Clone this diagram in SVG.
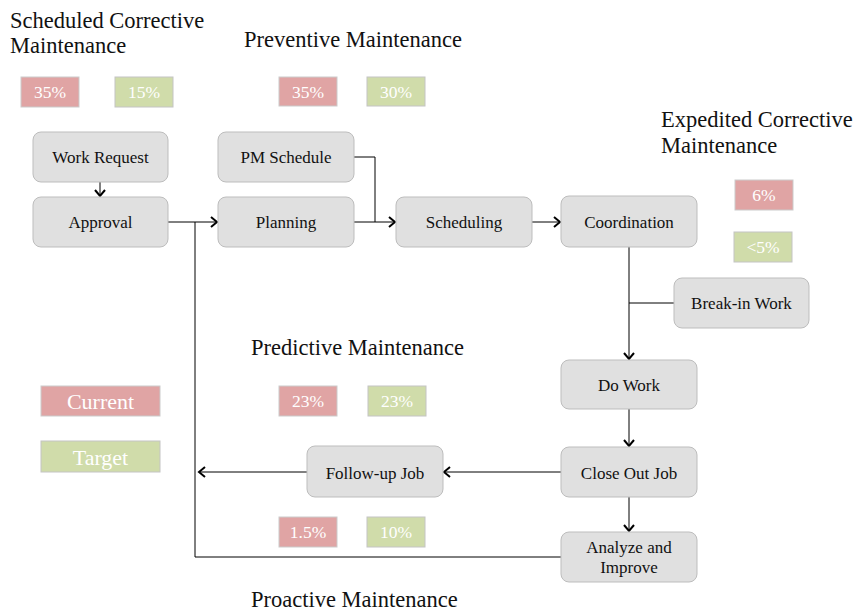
<svg xmlns="http://www.w3.org/2000/svg" width="856" height="612" viewBox="0 0 856 612">
  <style>
    .node rect { fill: #e0e0e0; stroke: #bdbdbd; stroke-width: 1; }
    .node text { font-family: "Liberation Serif", "Times New Roman", serif; font-size: 17px; fill: #111; text-anchor: middle; }
    .title { font-family: "Liberation Serif", "Times New Roman", serif; font-size: 22.5px; fill: #111; }
    .cur { fill: #e0a4a4; stroke: #cbcbcb; }
    .tgt { fill: #d0dcaa; stroke: #c4c4c4; }
    .pct { font-family: "Liberation Serif", "Times New Roman", serif; font-size: 17.5px; fill: #ffffff; text-anchor: middle; }
    .legend { font-family: "Liberation Serif", "Times New Roman", serif; font-size: 22px; fill: #ffffff; text-anchor: middle; }
    .edge { fill: none; stroke: #000; stroke-width: 1; }
  </style>
  <defs>
    <marker id="arrow" markerUnits="userSpaceOnUse" markerWidth="12" markerHeight="14" refX="7" refY="6" orient="auto">
      <path d="M1,1 L7,6 L1,11" fill="none" stroke="#000" stroke-width="2"/>
    </marker>
  </defs>

  <!-- Category titles -->
  <text class="title" x="10" y="28">Scheduled Corrective</text>
  <text class="title" x="10" y="53">Maintenance</text>
  <text class="title" x="244" y="47">Preventive Maintenance</text>
  <text class="title" x="661" y="127">Expedited Corrective</text>
  <text class="title" x="661" y="153">Maintenance</text>
  <text class="title" x="251" y="355">Predictive Maintenance</text>
  <text class="title" x="251" y="607">Proactive Maintenance</text>

  <!-- Current / target percentages -->
  <g id="pct-scheduled">
    <rect class="cur" x="21" y="77" width="58" height="30"/>
    <text class="pct" x="50" y="98">35%</text>
    <rect class="tgt" x="115" y="77" width="58" height="30"/>
    <text class="pct" x="144" y="98">15%</text>
  </g>
  <g id="pct-preventive">
    <rect class="cur" x="279" y="77" width="58" height="29"/>
    <text class="pct" x="308" y="98">35%</text>
    <rect class="tgt" x="367" y="77" width="58" height="29"/>
    <text class="pct" x="396" y="98">30%</text>
  </g>
  <g id="pct-expedited">
    <rect class="cur" x="735" y="180" width="58" height="30"/>
    <text class="pct" x="764" y="201">6%</text>
    <rect class="tgt" x="734" y="232" width="58" height="30"/>
    <text class="pct" x="763" y="253">&lt;5%</text>
  </g>
  <g id="pct-predictive">
    <rect class="cur" x="279" y="386" width="58" height="30"/>
    <text class="pct" x="308" y="407">23%</text>
    <rect class="tgt" x="368" y="386" width="58" height="30"/>
    <text class="pct" x="397" y="407">23%</text>
  </g>
  <g id="pct-proactive">
    <rect class="cur" x="279" y="517" width="58" height="30"/>
    <text class="pct" x="308" y="538">1.5%</text>
    <rect class="tgt" x="367" y="517" width="58" height="30"/>
    <text class="pct" x="396" y="538">10%</text>
  </g>

  <!-- Legend -->
  <g id="legend">
    <rect class="cur" x="41" y="386" width="119" height="30"/>
    <text class="legend" x="100.5" y="409">Current</text>
    <rect class="tgt" x="41" y="441" width="119" height="31"/>
    <text class="legend" x="100.5" y="465">Target</text>
  </g>

  <!-- Connectors -->
  <g id="connectors">
    <path class="edge" d="M100,182 V196" marker-end="url(#arrow)"/>
    <path class="edge" d="M168,222 H217" marker-end="url(#arrow)"/>
    <path class="edge" d="M561,557 H195 V222"/>
    <path class="edge" d="M354,157 H375 V222"/>
    <path class="edge" d="M354,222 H395" marker-end="url(#arrow)"/>
    <path class="edge" d="M532,222 H560" marker-end="url(#arrow)"/>
    <path class="edge" d="M629,247 V359" marker-end="url(#arrow)"/>
    <path class="edge" d="M674,303 H629"/>
    <path class="edge" d="M629,409 V446" marker-end="url(#arrow)"/>
    <path class="edge" d="M629,497 V531" marker-end="url(#arrow)"/>
    <path class="edge" d="M561,472 H444" marker-end="url(#arrow)"/>
    <path class="edge" d="M307,472 H199" marker-end="url(#arrow)"/>
  </g>

  <!-- Process steps -->
  <g id="work-request" class="node">
    <rect x="33" y="132" width="135" height="50" rx="8"/>
    <text x="100.5" y="163">Work Request</text>
  </g>
  <g id="approval" class="node">
    <rect x="33" y="197" width="135" height="50" rx="8"/>
    <text x="100.5" y="228">Approval</text>
  </g>
  <g id="pm-schedule" class="node">
    <rect x="218" y="132" width="136" height="50" rx="8"/>
    <text x="286" y="163">PM Schedule</text>
  </g>
  <g id="planning" class="node">
    <rect x="218" y="197" width="136" height="50" rx="8"/>
    <text x="286" y="228">Planning</text>
  </g>
  <g id="scheduling" class="node">
    <rect x="396" y="197" width="136" height="50" rx="8"/>
    <text x="464" y="228">Scheduling</text>
  </g>
  <g id="coordination" class="node">
    <rect x="561" y="196" width="136" height="51" rx="8"/>
    <text x="629" y="228">Coordination</text>
  </g>
  <g id="break-in-work" class="node">
    <rect x="674" y="278" width="135" height="50" rx="8"/>
    <text x="741.5" y="309">Break-in Work</text>
  </g>
  <g id="do-work" class="node">
    <rect x="561" y="360" width="136" height="49" rx="8"/>
    <text x="629" y="391">Do Work</text>
  </g>
  <g id="close-out-job" class="node">
    <rect x="561" y="447" width="136" height="50" rx="8"/>
    <text x="629" y="479">Close Out Job</text>
  </g>
  <g id="follow-up-job" class="node">
    <rect x="307" y="446" width="136" height="51" rx="8"/>
    <text x="375" y="479">Follow-up Job</text>
  </g>
  <g id="analyze-and-improve" class="node">
    <rect x="561" y="532" width="136" height="50" rx="8"/>
    <text x="629" y="553">Analyze and</text>
    <text x="629" y="573">Improve</text>
  </g>
</svg>
